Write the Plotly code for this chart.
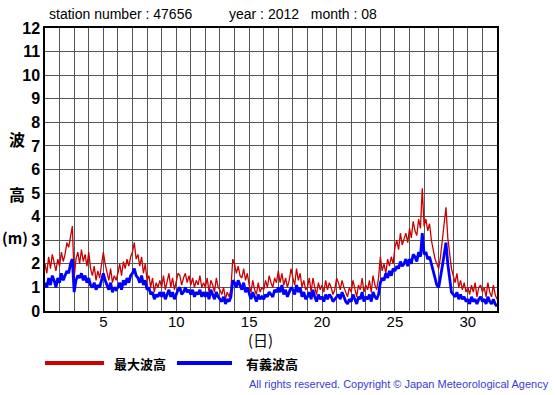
import plotly.graph_objects as go

# 3-hourly readings, 8 per day, days 1..31 (x = day + index/8), plus end point at 32
max_wave = [
    2.0, 1.6, 2.3, 1.8, 2.4, 2.0, 1.7, 2.2,
    1.9, 2.5, 2.1, 2.4, 2.9, 2.7, 3.2, 3.6,
    1.4, 2.2, 2.5, 2.0, 2.6, 2.1, 2.4, 1.9,
    2.5, 1.8, 1.5, 1.9, 1.3, 1.7, 1.4, 1.9,
    2.5, 2.0, 1.6, 1.3, 1.8, 1.2, 1.5, 1.3,
    1.6, 2.0, 1.5, 2.1, 1.8, 2.2, 1.9, 2.3,
    2.5, 2.9, 2.2, 2.4, 1.9, 2.3, 1.6, 2.0,
    1.3, 1.5, 1.0, 1.4, 0.8, 1.2, 1.0, 1.3,
    1.0, 1.5, 0.9, 1.2, 1.6, 1.0, 1.4, 0.9,
    1.2, 1.6, 1.5, 1.1, 1.4, 1.6, 1.2, 1.5,
    1.1, 1.4, 1.0, 1.3, 1.1, 1.5, 1.0, 1.2,
    1.0, 1.4, 0.8, 1.3, 1.1, 0.8, 1.4, 1.0,
    0.9, 0.7, 1.0, 0.5, 0.8, 0.6, 0.9, 2.2,
    2.0, 1.6, 1.9, 1.5, 1.4, 1.8, 1.3, 1.6,
    1.1, 0.8, 1.3, 0.9, 0.7, 1.2, 0.8, 1.0,
    0.9, 1.3, 1.0, 1.5, 1.2, 1.0, 1.4, 1.2,
    1.7, 1.2, 1.6, 1.1, 1.4, 1.0, 1.3, 1.8,
    1.4, 1.1, 1.8, 1.3, 1.6, 1.0, 1.3, 0.9,
    1.0, 1.4, 0.8, 1.4, 1.0, 0.7, 1.2, 0.9,
    1.1, 0.8, 1.3, 0.9, 1.2, 1.0, 0.7, 0.9,
    1.4, 1.2, 0.9, 1.3, 1.0, 0.8, 0.6, 1.0,
    0.8, 1.3, 0.9, 0.6, 1.1, 0.9, 1.4, 0.8,
    1.1, 0.9, 1.3, 0.8, 1.5, 1.1, 0.9, 1.4,
    2.3, 1.7, 2.0, 1.6, 2.2, 1.9, 2.3, 2.0,
    2.7, 3.0, 2.6, 3.3, 2.8, 3.1, 3.3, 2.9,
    3.5, 3.1, 3.8, 3.4, 3.2, 3.9, 3.5, 5.2,
    3.6, 3.9, 3.4, 3.7, 3.0, 2.6, 2.2, 2.0,
    1.8, 2.3, 3.0, 3.6, 4.4, 3.1, 2.4, 1.8,
    1.5, 1.2, 1.6, 1.0, 1.3, 0.9, 1.2, 0.8,
    1.0, 0.7, 1.1, 0.8, 1.2, 0.6, 1.0, 1.1,
    0.8, 1.0, 0.6, 1.2, 0.8, 0.6, 1.1, 0.7,
    0.5,
]

sig_wave = [
    1.2, 1.0, 1.4, 1.1, 1.5, 1.3, 1.0, 1.4,
    1.2, 1.6, 1.3, 1.5, 1.7, 1.6, 2.0, 2.2,
    0.8, 1.3, 1.5, 1.4, 1.6, 1.3, 1.5, 1.2,
    1.4, 1.1, 1.0, 1.2, 0.9, 1.1, 1.0, 1.3,
    1.6, 1.3, 1.1, 0.9, 1.2, 0.8, 1.0, 0.9,
    1.0, 1.2, 0.9, 1.3, 1.1, 1.4, 1.2, 1.5,
    1.6, 1.8, 1.5, 1.4, 1.2, 1.5, 1.1, 1.3,
    0.9, 1.0, 0.7, 0.8, 0.5, 0.7, 0.6, 0.8,
    0.6, 0.8, 0.5, 0.7, 0.9, 0.6, 0.8, 0.5,
    0.7, 0.9, 1.0, 0.7, 0.8, 1.0, 0.8, 0.9,
    0.7, 0.9, 0.6, 0.8, 0.7, 0.9, 0.6, 0.8,
    0.6, 0.8, 0.5, 0.9, 0.7, 0.5, 0.8, 0.6,
    0.5, 0.4, 0.6, 0.3, 0.5, 0.4, 0.6, 1.3,
    1.2, 1.0, 1.3, 1.1, 0.9, 1.2, 0.8, 1.0,
    0.7, 0.5, 0.8, 0.6, 0.4, 0.7, 0.5, 0.6,
    0.5, 0.7, 0.6, 0.8, 0.7, 0.6, 0.9, 0.8,
    1.0, 0.8, 1.1, 0.7, 0.9, 0.6, 0.8, 1.0,
    0.9, 0.7, 1.1, 0.8, 1.0, 0.6, 0.8, 0.5,
    0.6, 0.8, 0.5, 0.9, 0.6, 0.4, 0.7, 0.5,
    0.6, 0.4, 0.7, 0.5, 0.7, 0.6, 0.4, 0.5,
    0.6, 0.7, 0.5, 0.8, 0.6, 0.4, 0.3, 0.5,
    0.4, 0.7, 0.5, 0.3, 0.6, 0.5, 0.8, 0.4,
    0.6, 0.5, 0.7, 0.4, 0.8, 0.6, 0.5, 0.7,
    1.2, 1.4, 1.3, 1.6, 1.4, 1.7, 1.5, 1.8,
    1.7, 1.9, 1.8, 2.1, 1.9, 2.0, 2.2, 1.9,
    2.2, 2.0, 2.4, 2.3, 2.1, 2.5, 2.3, 3.3,
    2.4, 2.5, 2.2, 2.3, 2.0, 1.7, 1.4, 1.1,
    1.0, 1.4, 1.9, 2.4, 2.9, 2.0, 1.5, 0.8,
    0.7, 0.6, 0.8, 0.5, 0.7, 0.5, 0.6, 0.4,
    0.5, 0.3, 0.6, 0.4, 0.5, 0.3, 0.5, 0.6,
    0.4, 0.5, 0.3, 0.6, 0.4, 0.3, 0.5, 0.3,
    0.2,
]

days = [1 + i / 8 for i in range(len(max_wave))]
x_ticks = [5, 10, 15, 20, 25, 30]
y_ticks = list(range(0, 13))

RED = "#cc0000"
BLUE = "#0000ff"
FONT = "Liberation Sans, Arial, sans-serif"
CJK = "Noto Sans CJK JP, sans-serif"

fig = go.Figure()
fig.add_trace(go.Scatter(x=days, y=max_wave, mode="lines",
                         line=dict(color=RED, width=1.3), showlegend=False))
fig.add_trace(go.Scatter(x=days, y=sig_wave, mode="lines",
                         line=dict(color=BLUE, width=2.8), showlegend=False))

L, R, T, B = 45, 58, 28, 84
fig.update_layout(
    width=555, height=395,
    margin=dict(l=L, r=R, t=T, b=B, autoexpand=False),
    paper_bgcolor="white", plot_bgcolor="white",
    showlegend=False,
    xaxis=dict(range=[1, 32], tickvals=x_ticks, ticks="", ticklen=0, showgrid=True,
               ticklabelstandoff=-4,
               gridcolor="#555555", gridwidth=1,
               minor=dict(dtick=1, tick0=0, showgrid=True, gridcolor="#555555", gridwidth=1),
               showline=True, linecolor="black", linewidth=1.5, mirror=True,
               tickfont=dict(family=FONT, size=15, color="black"), zeroline=False),
    yaxis=dict(range=[0, 12], tickvals=y_ticks, ticks="", showgrid=True,
               gridcolor="#555555", gridwidth=1,
               showline=True, linecolor="black", linewidth=1.5, mirror=True,
               tickfont=dict(family=FONT, size=16, color="black", weight="bold"),
               zeroline=False),
)

pw, ph = 555 - L - R, 395 - T - B


def px(xp):
    return (xp - L) / pw


def py(yp):
    return (395 - B - yp) / ph


ann = [
    dict(text="station number : 47656", x=47, y=14, font=dict(size=14, family=FONT)),
    dict(text="year : 2012   month : 08", x=227, y=14, font=dict(size=14, family=FONT)),
    dict(text="波", x=7, y=139, font=dict(size=16, family=CJK, weight="bold")),
    dict(text="高", x=7, y=194, font=dict(size=16, family=CJK, weight="bold")),
    dict(text="(m)", x=0, y=238, font=dict(size=15, family=CJK, weight="bold")),
    dict(text="(日)", x=246, y=339, font=dict(size=15, family=CJK)),
    dict(text="最大波高", x=112, y=363, font=dict(size=13, family=CJK, weight="bold")),
    dict(text="有義波高", x=244, y=363, font=dict(size=13, family=CJK, weight="bold")),
]
for a in ann:
    fig.add_annotation(text=a["text"], x=px(a["x"]), y=py(a["y"]),
                       xref="paper", yref="paper", xanchor="left", yanchor="middle",
                       showarrow=False, font=dict(color="black", **a["font"]))
fig.add_annotation(text="All rights reserved. Copyright © Japan Meteorological Agency",
                   x=px(551), y=py(384), xref="paper", yref="paper",
                   xanchor="right", yanchor="middle", showarrow=False,
                   font=dict(size=11, family="Liberation Sans, sans-serif", color="#3a3ad8"))
fig.add_shape(type="line", xref="paper", yref="paper", x0=px(45), x1=px(104),
              y0=py(363), y1=py(363), line=dict(color=RED, width=4))
fig.add_shape(type="line", xref="paper", yref="paper", x0=px(177), x1=px(232),
              y0=py(363), y1=py(363), line=dict(color=BLUE, width=4))

fig.write_html("out.html", config={"displayModeBar": False},
               post_script="document.body.style.margin='0';document.body.style.overflow='hidden';")
